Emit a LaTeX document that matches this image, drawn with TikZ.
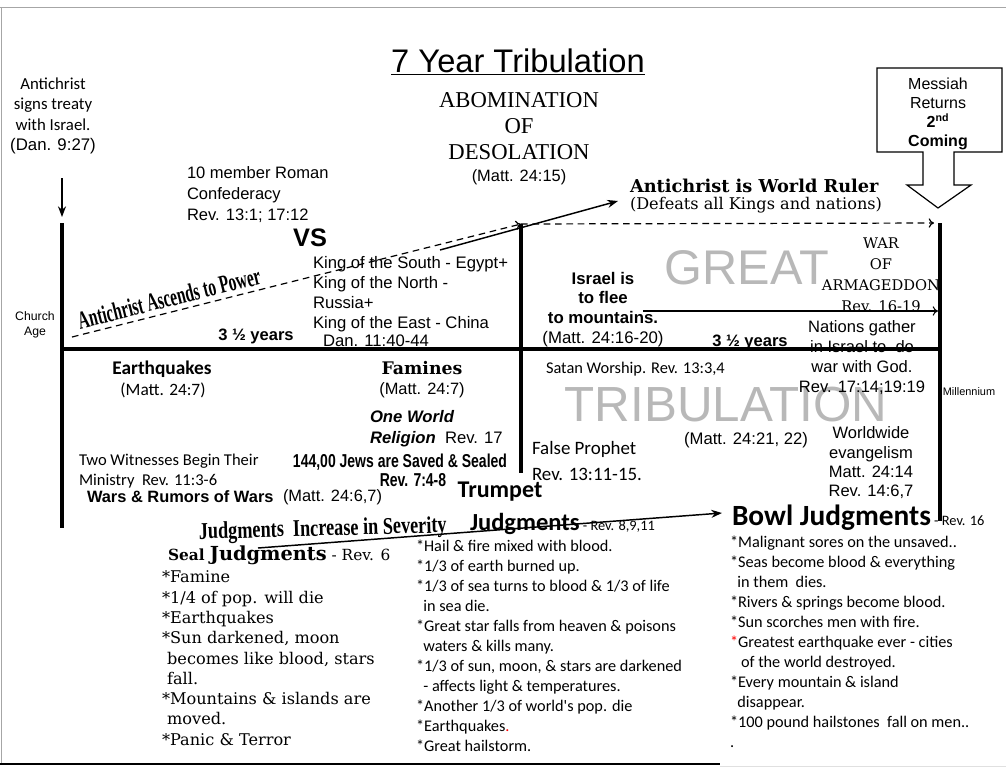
\documentclass[tikz,border=0pt]{standalone}
\usepackage{fontspec}
\usepackage{tikz}
\usetikzlibrary{arrows.meta}
\setmainfont{Liberation Sans}
\newfontfamily\tnr{Liberation Serif}
\newfontfamily\calib{Carlito}
\newfontfamily\bookm{DejaVu Serif}
\newfontfamily\imp[FakeStretch=0.75]{Liberation Sans}
\newfontfamily\condA[FakeStretch=0.61]{Liberation Serif}
\newfontfamily\condB[FakeStretch=0.76]{Liberation Serif}
\newcommand{\fsz}[2]{\fontsize{#1}{#2}\selectfont}
\tikzset{
  lbl/.style={inner sep=0pt, outer sep=0pt, align=center},
  lbll/.style={inner sep=0pt, outer sep=0pt, align=left},
  thickline/.style={line width=3pt},
  arr/.style={line width=1.1pt, -{Stealth[length=8pt,width=6pt]}},
  openarr/.style={line width=0.8pt, -{To[length=4pt,width=7pt]}},
  dasharr/.style={line width=0.9pt, dash pattern=on 5pt off 3.5pt, -{To[length=4pt,width=7pt]}}
}

\begin{document}
\begin{tikzpicture}[x=0.75pt,y=-0.75pt]
       \useasboundingbox (0,0) rectangle (1006,769);
       \draw[black!35] (0,7) -- (1006,7);
       \draw[black!35] (1,7) -- (1,764);
       \draw[black!12] (720,766) -- (1006,766);
       \draw[line width=0.9pt] (0,764) -- (720,764);
       % grey background words
       \node[lbl, text=black!28, font=\fsz{36.5}{36}] (great) at (747,268) {GREAT};
       \node[lbl, text=black!28, font=\fsz{37}{36}] (trib) at (726,405) {TRIBULATION};
       % time line
       \coordinate (lt) at (62,223);  \coordinate (lb) at (62,528);
       \coordinate (mt) at (521,224); \coordinate (mb) at (521,473);
       \coordinate (rt) at (940,223); \coordinate (rb) at (940,521);
       \coordinate (hl) at (62,349);  \coordinate (hr) at (940,349);
       \draw[thickline] (lt) -- (lb);
       \draw[thickline] (mt) -- (mb);
       \draw[thickline] (rt) -- (rb);
       \draw[thickline] (hl) -- (hr);
       % top
       \node[lbl, anchor=base, font=\fsz{24.5}{26}] (title) at (518,72) {\underline{7 Year Tribulation}};
       \node[lbl, anchor=north, font=\tnr\fsz{17}{19.5}] (abom) at (519,92) {ABOMINATION\\OF\\DESOLATION};
       \node[lbl, font=\fsz{12.3}{14}] (mattA) at (519,177) {(Matt. 24:15)};
       \node[lbl, anchor=north, font=\calib\fsz{12.6}{15.2}] (treaty) at (53,78) {Antichrist\\signs treaty\\with Israel.\\\normalfont(Dan. 9:27)};
       \coordinate (treatyA) at (62,178); \coordinate (treatyB) at (62,217);
       \draw[arr] (treatyA) -- (treatyB);
       \node[lbll, anchor=north west, font=\fsz{12.4}{15.4}] (roman) at (187,167) {10 member Roman\\Confederacy\\Rev. 13:1; 17:12};
       \node[lbl, font=\fsz{19}{19}\bfseries] (vs) at (310,238) {VS};
       \node[lbll, anchor=north west, font=\fsz{12.5}{15.2}] (kings) at (313,256) {King of the South - Egypt+\\King of the North -\\Russia+\\King of the East - China};
       \node[lbl, font=\fsz{12.5}{15}] (dan) at (376,341) {Dan. 11:40-44};
       \node[lbl, rotate=14, font=\condA\bfseries\fsz{19}{19}] (ascend) at (169,298) {Antichrist Ascends to Power};
       \node[lbl, font=\bfseries\fsz{12.4}{15}] (yrsA) at (256,336) {3 ½ years};
       \node[lbl, font=\bfseries\fsz{12.4}{15}] (yrsB) at (750,342) {3 ½ years};
       \coordinate (ascA) at (72,337);
       \draw[dasharr] (ascA) -- (mt);
       \coordinate (rulerA) at (440,250); \coordinate (rulerB) at (618,201);
       \draw[arr] (rulerA) -- (rulerB);
       \coordinate (rtip) at (934,223);
       \draw[dasharr] (mt) -- (rtip);
       \node[lbl, anchor=west, font=\bookm\bfseries\fsz{13.3}{14}] (ruler) at (630,186) {Antichrist is World Ruler};
       \node[lbl, anchor=west, font=\bookm\fsz{12.1}{14}] (defeat) at (630,205) {(Defeats all Kings and nations)};
       \draw[line width=0.9pt] (877,68) -- (1002,68) -- (1002,152) -- (954,152) -- (954,185) -- (971,185)
         -- (938,208) -- (907,185) -- (923,185) -- (923,152) -- (877,152) -- cycle;
       \node[lbl, anchor=north, font=\fsz{12}{14.3}] (messiah) at (938,78) {Messiah\\Returns\\\textbf{2\textsuperscript{nd}}\\\textbf{Coming}};
       % upper right
       \node[lbl, anchor=north, font=\bfseries\fsz{12.6}{14.8}] (israel) at (603,272) {Israel is\\to flee\\to mountains.\\\mdseries (Matt. 24:16-20)};
       \coordinate (fleeA) at (643,311); \coordinate (fleeB) at (938,311);
       \draw[openarr] (fleeA) -- (fleeB);
       \node[lbl, anchor=north, font=\bookm\fsz{11}{15.8}] (war) at (881,238) {WAR\\OF\\ARMAGEDDON\\Rev. 16-19};
       \node[lbl, anchor=north, font=\fsz{12.4}{15}] (nations) at (862,321) {Nations gather\\in Israel to\ \ do\\war with God.\\Rev. 17:14;19:19};
       \node[lbl, font=\fsz{8.2}{10}] (mill) at (969,392) {Millennium};
       \node[lbl, font=\fsz{9.2}{11.2}] (church) at (35,325) {Church\\Age};
       % lower half
       \node[lbl, font=\calib\bfseries\fsz{14.5}{16}] (quake) at (162,369) {Earthquakes};
       \node[lbl, font=\calib\fsz{13}{15}] (mattB) at (163,390) {(Matt. 24:7)};
       \node[lbl, font=\bookm\bfseries\fsz{13}{15}] (famine) at (422,368) {Famines};
       \node[lbl, font=\fsz{12.3}{15}] (mattC) at (422,390) {(Matt. 24:7)};
       \node[lbll, anchor=north west, font=\bfseries\itshape\fsz{12.5}{15.8}] (religion) at (370,410) {One World\\Religion\ \ \normalfont Rev. 17};
       \node[lbl, font=\imp\bfseries\fsz{14}{16}] (sealed) at (400,462) {144,00 Jews are Saved \& Sealed};
       \node[lbl, font=\imp\bfseries\fsz{14}{16}] (sealRev) at (413,480) {Rev. 7:4-8};
       \node[lbl, anchor=west, font=\calib\fsz{12.3}{14}] (satan) at (546,369) {Satan Worship. Rev. 13:3,4};
       \node[lbll, anchor=north west, font=\calib\fsz{14.2}{19.5}] (falseP) at (532,441) {False Prophet\\Rev. 13:11-15.};
       \node[lbl, font=\fsz{12.5}{14}] (mattD) at (746,440) {(Matt. 24:21, 22)};
       \node[lbl, anchor=north, font=\fsz{12.4}{14.5}] (world) at (871,427) {Worldwide\\evangelism\\Matt. 24:14\\Rev. 14:6,7};
       \node[lbll, anchor=north west, font=\calib\fsz{12.4}{15}] (witness) at (79,454) {Two Witnesses Begin Their\\Ministry\ \ Rev. 11:3-6};
       \node[lbl, anchor=west, font=\bfseries\fsz{12.3}{14}] (wars) at (87,497) {Wars \& Rumors of Wars};
       \node[lbl, anchor=west, font=\fsz{12.3}{14}] (mattE) at (283,497) {(Matt. 24:6,7)};
       % judgments
       \node[lbl, font=\calib\bfseries\fsz{18}{20}] (trumpet) at (500,492) {Trumpet};
       \node[lbl, anchor=base west, font=\calib\fsz{18.4}{20}] (trumpJ) at (470,530) {\textbf{Judgments}\fsz{10.8}{12} - Rev. 8,9,11};
       \node[lbl, anchor=base west, rotate=1.5, font=\condB\bfseries\fsz{18}{18}] (sever) at (199,539) {Judgments\ \ Increase in Severity};
       \node[lbl, anchor=base west, font=\calib\fsz{22}{24}] (bowl) at (732,525) {\textbf{Bowl Judgments}\fsz{10.8}{12} - Rev. 16};
       \coordinate (sevA) at (258,548); \coordinate (sevB) at (722,513);
       \draw[arr] (sevA) -- (sevB);
       \node[lbl, anchor=base west, font=\bookm\bfseries\fsz{11.5}{14}] (seal) at (168,560) {Seal \fsz{14.5}{16}Judgments\mdseries\fsz{11.5}{14} - Rev. 6};
       \node[lbll, anchor=north west, font=\bookm\fsz{12.1}{15.2}] (sealList) at (162,571) {*Famine\\*1/4 of pop. will die\\*Earthquakes\\*Sun darkened, moon\\\ becomes like blood, stars\\\ fall.\\*Mountains \& islands are\\\ moved.\\*Panic \& Terror};
       \node[lbll, anchor=north west, font=\calib\fsz{12.2}{15}] (trumpList) at (416,540) {*Hail \& fire mixed with blood.\\*1/3 of earth burned up.\\*1/3 of sea turns to blood \& 1/3 of life\\\ \ in sea die.\\*Great star falls from heaven \& poisons\\\ \ waters \& kills many.\\*1/3 of sun, moon, \& stars are darkened\\\ \ - affects light \& temperatures.\\*Another 1/3 of world's pop. die\\*Earthquakes\textcolor{red}{.}\\*Great hailstorm.};
       \node[lbll, anchor=north west, font=\calib\fsz{12.2}{15}] (bowlList) at (730,536) {*Malignant sores on the unsaved..\\*Seas become blood \& everything\\\ \ in them\ \ dies.\\*Rivers \& springs become blood.\\*Sun scorches men with fire.\\\textcolor{red}{*}Greatest earthquake ever - cities\\\ \ \ of the world destroyed.\\*Every mountain \& island\\\ \ disappear.\\*100 pound hailstones\ \ fall on men..\\.};
      \end{tikzpicture}
\end{document}
